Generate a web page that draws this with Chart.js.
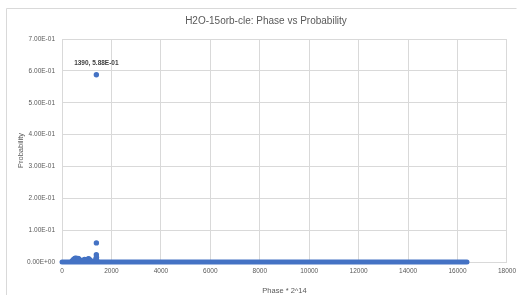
<!DOCTYPE html>
<html>
<head>
<meta charset="utf-8">
<script src="https://cdn.jsdelivr.net/npm/chart.js@4/dist/chart.umd.min.js"></script>
<style>
html,body{margin:0;padding:0;background:#fff;}
#wrap{position:relative;width:521px;height:295px;}
</style>
</head>
<body>
<div id="wrap"><canvas id="c" width="521" height="295"></canvas></div>
<script>
const chartTitle = "H2O-15orb-cle: Phase vs Probability";
const xAxisTitle = "Phase * 2^14";
const yAxisTitle = "Probability";
const xTicks = [0, 2000, 4000, 6000, 8000, 10000, 12000, 14000, 16000, 18000];
const yTicks = [0, 0.1, 0.2, 0.3, 0.4, 0.5, 0.6, 0.7];

// near-zero baseline (phase values and probabilities)
const basePhases = [
  0,160,320,480,640,800,960,1120,1280,1440,1600,1760,1920,2080,2240,2400,2560,2720,2880,3040,
  3200,3360,3520,3680,3840,4000,4160,4320,4480,4640,4800,4960,5120,5280,5440,5600,5760,5920,6080,6240,
  6400,6560,6720,6880,7040,7200,7360,7520,7680,7840,8000,8160,8320,8480,8640,8800,8960,9120,9280,9440,
  9600,9760,9920,10080,10240,10400,10560,10720,10880,11040,11200,11360,11520,11680,11840,12000,12160,12320,12480,12640,
  12800,12960,13120,13280,13440,13600,13760,13920,14080,14240,14400,14560,14720,14880,15040,15200,15360,15520,15680,15840,
  16000,16160,16320,16383
];
const baseProbs = [
  0,0,0,0,0,0,0,0,0,0,0,0,0,0,0,0,0,0,0,0,
  0,0,0,0,0,0,0,0,0,0,0,0,0,0,0,0,0,0,0,0,
  0,0,0,0,0,0,0,0,0,0,0,0,0,0,0,0,0,0,0,0,
  0,0,0,0,0,0,0,0,0,0,0,0,0,0,0,0,0,0,0,0,
  0,0,0,0,0,0,0,0,0,0,0,0,0,0,0,0,0,0,0,0,
  0,0,0,0
];
// visible peaks
const peakPhases = [400,430,460,490,520,550,580,610,640,670,700,730,760,
                    850,880,910,940,970,1010,1040,1070,1100,1130,1170,1210,
                    1360,1375,1385,1389,1390,1391,1395,1405];
const peakProbs  = [0.002,0.004,0.007,0.009,0.011,0.012,0.011,0.010,0.011,0.010,0.008,0.005,0.002,
                    0.003,0.006,0.008,0.007,0.004,0.005,0.008,0.010,0.009,0.006,0.003,0.002,
                    0.004,0.008,0.012,0.023,0.588,0.060,0.015,0.005];
const labelPhase = 1390;

const BLUE = '#4472c4';
const GRID = '#d9d9d9';
const TXT = '#595959';
const FONT = "'Liberation Sans', Arial, sans-serif";

function sci(v){
  const s = Number(v).toExponential(2).split('e');
  const n = parseInt(s[1], 10);
  return s[0] + 'E' + (n < 0 ? '-' : '+') + String(Math.abs(n)).padStart(2, '0');
}

const frame = {
  id: 'frame',
  beforeDraw(chart){
    const ctx = chart.ctx;
    ctx.save();
    ctx.fillStyle = '#fff';
    ctx.fillRect(0, 0, chart.width, chart.height);
    ctx.strokeStyle = GRID;
    ctx.lineWidth = 1;
    ctx.beginPath();
    ctx.moveTo(6.5, 300); ctx.lineTo(6.5, 8.5); ctx.lineTo(516.5, 8.5);
    ctx.stroke();
    ctx.fillStyle = TXT;
    ctx.font = "10px " + FONT;
    ctx.textAlign = 'center';
    ctx.textBaseline = 'middle';
    ctx.fillText(chartTitle, 266, 21);
    ctx.restore();
  },
  afterDatasetsDraw(chart){
    const meta = chart.getDatasetMeta(1);
    const idx = peakPhases.indexOf(labelPhase);
    const el = meta.data[idx];
    const ctx = chart.ctx;
    ctx.save();
    ctx.fillStyle = '#404040';
    ctx.font = "bold 6.5px " + FONT;
    ctx.textAlign = 'center';
    ctx.textBaseline = 'middle';
    ctx.fillText(labelPhase + ', ' + sci(peakProbs[idx]), el.x, el.y - 11.5);
    ctx.restore();
  }
};

new Chart(document.getElementById('c'), {
  type: 'scatter',
  data: {
    datasets: [
      { data: basePhases.map((p, i) => ({x: p, y: baseProbs[i]})), clip: false,
        showLine: true, borderWidth: 5, borderCapStyle: 'round', borderJoinStyle: 'round',
        backgroundColor: BLUE, borderColor: BLUE, pointRadius: 0 },
      { data: peakPhases.map((p, i) => ({x: p, y: peakProbs[i]})), clip: false,
        backgroundColor: BLUE, borderColor: BLUE, pointRadius: 2.7, pointBorderWidth: 0 }
    ]
  },
  options: {
    responsive: false,
    animation: false,
    events: [],
    layout: { padding: { top: 39, left: 15, right: 13, bottom: 0 } },
    plugins: { legend: { display: false }, tooltip: { enabled: false }, title: { display: false } },
    scales: {
      x: {
        type: 'linear', min: 0, max: 18000,
        afterBuildTicks: s => { s.ticks = xTicks.map(v => ({value: v})); },
        afterFit: s => { s.height = 33; },
        grid: { color: GRID, drawTicks: false },
        border: { display: false },
        ticks: { color: TXT, font: { family: FONT, size: 6.5 }, padding: 5, maxRotation: 0, callback: v => String(v) },
        title: { display: true, text: xAxisTitle, color: TXT, font: { family: FONT, size: 7.5 }, padding: { top: 3, bottom: 0 } }
      },
      y: {
        type: 'linear', min: 0, max: 0.7,
        afterBuildTicks: s => { s.ticks = yTicks.map(v => ({value: v})); },
        afterFit: s => { s.width = 47; },
        grid: { color: GRID, drawTicks: false },
        border: { display: false },
        ticks: { color: TXT, font: { family: FONT, size: 6.5 }, padding: 7, callback: v => sci(v) },
        title: { display: true, text: yAxisTitle, color: TXT, font: { family: FONT, size: 7.5 }, padding: { top: 1.5, bottom: 0 } }
      }
    }
  },
  plugins: [frame]
});
</script>
</body>
</html>
